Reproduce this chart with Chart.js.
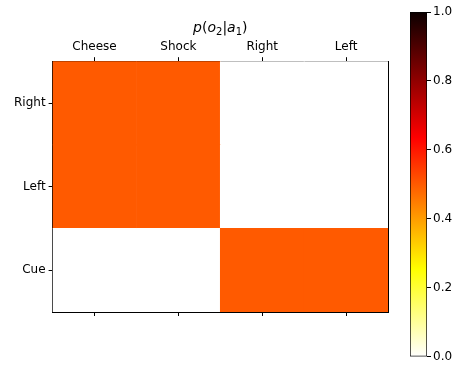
<!DOCTYPE html>
<html>
<head>
<meta charset="utf-8">
<script src="https://cdn.jsdelivr.net/npm/chart.js@4.4.0/dist/chart.umd.min.js"></script>
<style>
  body { margin: 0; background: #fff; overflow: hidden; }
  #wrap { position: relative; width: 457px; height: 366px; overflow: hidden; }
  #main { position: absolute; left: 0; top: 0; }
  #cbar { position: absolute; left: 398px; top: 0; }
</style>
</head>
<body>
<div id="wrap">
  <canvas id="main" width="400" height="366"></canvas>
  <canvas id="cbar" width="72" height="366"></canvas>
</div>
<script>
// p(o2|a1) heatmap data
const columns = ['Cheese', 'Shock', 'Right', 'Left'];
const rowsBottomUp = ['Cue', 'Left', 'Right'];
const probRight = [0.5, 0.5, 0, 0];
const probLeft = [0.5, 0.5, 0, 0];
const probCue = [0, 0, 0.5, 0.5];
const colorbarTicks = [0, 0.2, 0.4, 0.6, 0.8, 1.0];

const FONT = 'DejaVu Sans';
const INK = '#000';

// matplotlib hot_r colormap (piecewise linear)
function hotR(v) {
    const t = 1 - v;
    const r = t < 0.365079 ? 0.0416 + (1 - 0.0416) * t / 0.365079 : 1;
    const g = t < 0.365079 ? 0 : (t < 0.746032 ? (t - 0.365079) / 0.380953 : 1);
    const b = t < 0.746032 ? 0 : (t - 0.746032) / 0.253968;
    return `rgb(${Math.round(r * 255)}, ${Math.round(g * 255)}, ${Math.round(b * 255)})`;
}

const tickGrid = {
    drawOnChartArea: false,
    drawTicks: true,
    tickLength: 4,
    tickColor: INK,
    tickWidth: 1,
    offset: false
};
const tickFont = { family: FONT, size: 12 };

// title drawn as mathtext-like pieces: [text, style, size, drop]
const titlePieces = [
    ['p', 'italic', 14, 0], ['(', 'normal', 14, 0], ['o', 'italic', 14, 0], ['2', 'normal', 10, 3],
    ['|', 'normal', 14, 0], ['a', 'italic', 14, 0], ['1', 'normal', 10, 3], [')', 'normal', 14, 0]
];

const mathTitle = {
    id: 'mathTitle',
    afterDraw(chart) {
        const ctx = chart.ctx;
        const xs = chart.scales.x;
        const font = (st, sz) => `${st} ${sz}px "${FONT}"`;
        let total = 0;
        titlePieces.forEach(([t, st, sz]) => { ctx.font = font(st, sz); total += ctx.measureText(t).width; });
        let x = (chart.chartArea.left + chart.chartArea.right) / 2 - total / 2;
        const base = xs.top + 13;
        ctx.save();
        ctx.fillStyle = INK;
        ctx.textBaseline = 'alphabetic';
        ctx.textAlign = 'left';
        titlePieces.forEach(([t, st, sz, drop]) => {
            ctx.font = font(st, sz);
            ctx.fillText(t, x, base + drop);
            x += ctx.measureText(t).width;
        });
        ctx.restore();
    }
};

new Chart(document.getElementById('main'), {
    type: 'bar',
    data: {
        labels: columns,
        datasets: [
            { label: 'Cue', data: probCue.map(() => 1), backgroundColor: probCue.map(hotR) },
            { label: 'Left', data: probLeft.map(() => 1), backgroundColor: probLeft.map(hotR) },
            { label: 'Right', data: probRight.map(() => 1), backgroundColor: probRight.map(hotR) }
        ]
    },
    options: {
        responsive: false,
        animation: false,
        layout: { padding: { left: 11, right: 12, top: 19, bottom: 50 } },
        datasets: {
            bar: { barPercentage: 1, categoryPercentage: 1, borderWidth: 0 }
        },
        plugins: {
            legend: { display: false },
            tooltip: { enabled: false }
        },
        scales: {
            x: {
                type: 'category',
                position: 'top',
                stacked: true,
                offset: true,
                grid: tickGrid,
                border: { display: true, color: INK, width: 1 },
                ticks: { color: INK, font: tickFont, padding: 3, maxRotation: 0 },
                title: {
                    // reserves room; the visible title is drawn by mathTitle
                    display: true,
                    text: 'p(o2|a1)',
                    color: 'rgba(0,0,0,0)',
                    font: { family: FONT, size: 14 },
                    padding: { top: 0, bottom: 1 }
                }
            },
            xb: {
                type: 'category',
                position: 'bottom',
                labels: columns,
                offset: true,
                grid: tickGrid,
                border: { display: true, color: INK, width: 1 },
                ticks: { display: false }
            },
            y: {
                type: 'linear',
                position: 'left',
                stacked: true,
                min: 0,
                max: 3,
                afterBuildTicks: s => { s.ticks = rowsBottomUp.map((_, i) => ({ value: i + 0.5 })); },
                grid: tickGrid,
                border: { display: true, color: INK, width: 1 },
                ticks: { color: INK, font: tickFont, padding: 3, callback: (v, i) => rowsBottomUp[i] }
            },
            yr: {
                type: 'linear',
                position: 'right',
                min: 0,
                max: 3,
                grid: { display: false, drawTicks: false },
                border: { display: true, color: INK, width: 1 },
                ticks: { display: false }
            }
        }
    },
    plugins: [mathTitle]
});

// colorbar
const cmapStops = [[0, '#ffffff'], [0.254, '#ffff00'], [0.635, '#ff0000'], [1, '#0b0000']];

new Chart(document.getElementById('cbar'), {
    type: 'bar',
    data: {
        labels: ['cbar'],
        datasets: [{
            data: [[0, 1]],
            borderColor: INK,
            borderWidth: 1,
            borderSkipped: false,
            backgroundColor: ctx => {
                const c = ctx.chart;
                if (!c.chartArea) return null;
                const ys = c.scales.y;
                const g = c.ctx.createLinearGradient(0, ys.getPixelForValue(0), 0, ys.getPixelForValue(1));
                cmapStops.forEach(([p, col]) => g.addColorStop(p, col));
                return g;
            }
        }]
    },
    options: {
        responsive: false,
        animation: false,
        layout: { padding: { left: 12, right: 13, top: 12, bottom: 8 } },
        datasets: { bar: { barPercentage: 1, categoryPercentage: 1 } },
        plugins: { legend: { display: false }, tooltip: { enabled: false } },
        scales: {
            x: { display: false },
            y: {
                position: 'right',
                min: 0,
                max: 1,
                afterBuildTicks: s => { s.ticks = colorbarTicks.map(v => ({ value: v })); },
                // fixed width so the narrow bar keeps room for its labels
                afterFit: s => { s.width = 30; },
                grid: { drawOnChartArea: false, drawTicks: true, tickLength: 4, tickColor: INK },
                border: { display: false },
                ticks: { color: INK, font: tickFont, padding: 2, callback: v => v.toFixed(1) }
            }
        }
    }
});
</script>
</body>
</html>
